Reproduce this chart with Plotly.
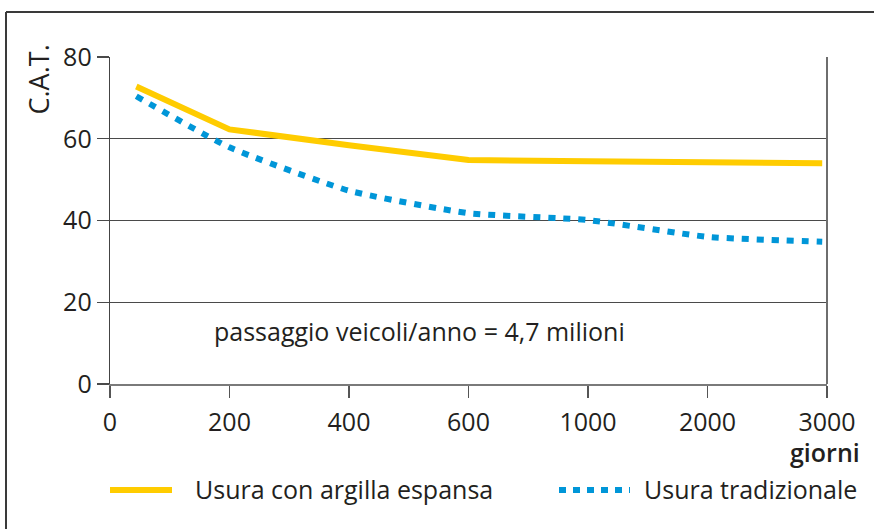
import plotly.graph_objects as go

# ---- data ----
tick_labels = ["0", "200", "400", "600", "1000", "2000", "3000"]
x_position = [0.22, 1, 2, 3, 4, 5, 5.96]          # position on the (evenly spaced) day scale
argilla = [72.8, 62.3, 58.4, 54.8, 54.5, 54.2, 54.0]
tradizionale = [70.4, 57.9, 47.3, 41.8, 40.1, 36.0, 34.8]
series_names = ["Usura con argilla espansa", "Usura tradizionale"]

YELLOW = "#FFCC00"
BLUE = "#0096D8"
TXT = "#231f20"
FONT = "Open Sans"

W, H = 874, 529
ML, MR, MT, MB = 110, 47, 57, 145
PW, PH = W - ML - MR, H - MT - MB


def px(xp):
    return (xp - ML) / PW


def py(yp):
    return (H - MB - yp) / PH


fig = go.Figure()
fig.add_trace(go.Scatter(x=x_position, y=argilla, mode="lines", name=series_names[0],
                         line=dict(color=YELLOW, width=6), showlegend=False, hoverinfo="skip"))
fig.add_trace(go.Scatter(x=x_position, y=tradizionale, mode="lines", name=series_names[1],
                         line=dict(color=BLUE, width=6, dash="7px,8px", shape="spline", smoothing=0.5),
                         showlegend=False, hoverinfo="skip"))

fig.update_layout(
    width=W, height=H,
    margin=dict(l=ML, r=MR, t=MT, b=MB, pad=0),
    paper_bgcolor="white", plot_bgcolor="white",
    font=dict(family=FONT, color=TXT, size=25),
    xaxis=dict(range=[0, 6], tickmode="array", tickvals=list(range(7)), ticktext=tick_labels,
               showgrid=False, zeroline=False, showline=True, linecolor="#7a7a7a", linewidth=2,
               ticks="outside", ticklen=12, tickcolor="#555", tickwidth=1.3,
               ticklabelstandoff=3, tickfont=dict(size=25, family=FONT, color=TXT)),
    yaxis=dict(range=[0, 80], tickmode="array", tickvals=[0, 20, 40, 60, 80],
               showgrid=True, gridcolor="#4a4a4a", gridwidth=1.2, zeroline=False,
               showline=True, linecolor="#444", linewidth=1.3,
               ticks="outside", ticklen=12, tickcolor="#4a4a4a", tickwidth=1.2,
               tickfont=dict(size=25, family=FONT, color=TXT)),
    showlegend=False,
)

shapes = [
    # right border of plot area
    dict(type="line", xref="paper", yref="paper", x0=1, x1=1, y0=0, y1=1,
         line=dict(color="#6e6e6e", width=2)),
    # outer frame (top and left)
    dict(type="line", xref="paper", yref="paper", x0=px(6), x1=px(W + 5), y0=py(12), y1=py(12),
         line=dict(color="#3a3a3a", width=2)),
    dict(type="line", xref="paper", yref="paper", x0=px(6), x1=px(6), y0=py(12), y1=py(H + 5),
         line=dict(color="#3a3a3a", width=2)),
    # legend samples
    dict(type="line", xref="paper", yref="paper", x0=px(110), x1=px(172), y0=py(490), y1=py(490),
         line=dict(color=YELLOW, width=6)),
    dict(type="line", xref="paper", yref="paper", x0=px(559), x1=px(630), y0=py(490), y1=py(490),
         line=dict(color=BLUE, width=6, dash="7px,7px")),
]
fig.update_layout(shapes=shapes)

ann = [
    dict(text="C.A.T.", x=px(37.5), y=py(80), textangle=-90, font=dict(size=27)),
    dict(text="passaggio veicoli/anno = 4,7 milioni", x=px(212), y=py(331), xanchor="left",
         font=dict(size=25)),
    dict(text="giorni", x=px(862), y=py(452), xanchor="right",
         font=dict(size=25, weight=600)),
    dict(text=series_names[0], x=px(193), y=py(489), xanchor="left", font=dict(size=25)),
    dict(text=series_names[1], x=px(642), y=py(489), xanchor="left", font=dict(size=25)),
]
for a in ann:
    a.setdefault("xanchor", "center")
    a.update(xref="paper", yref="paper", yanchor="middle", showarrow=False)
    a["font"].setdefault("family", FONT)
    a["font"].setdefault("color", TXT)
fig.update_layout(annotations=ann)

fig.write_html("out.html", config={"displayModeBar": False, "staticPlot": True},
               post_script="document.body.style.margin='0';")
